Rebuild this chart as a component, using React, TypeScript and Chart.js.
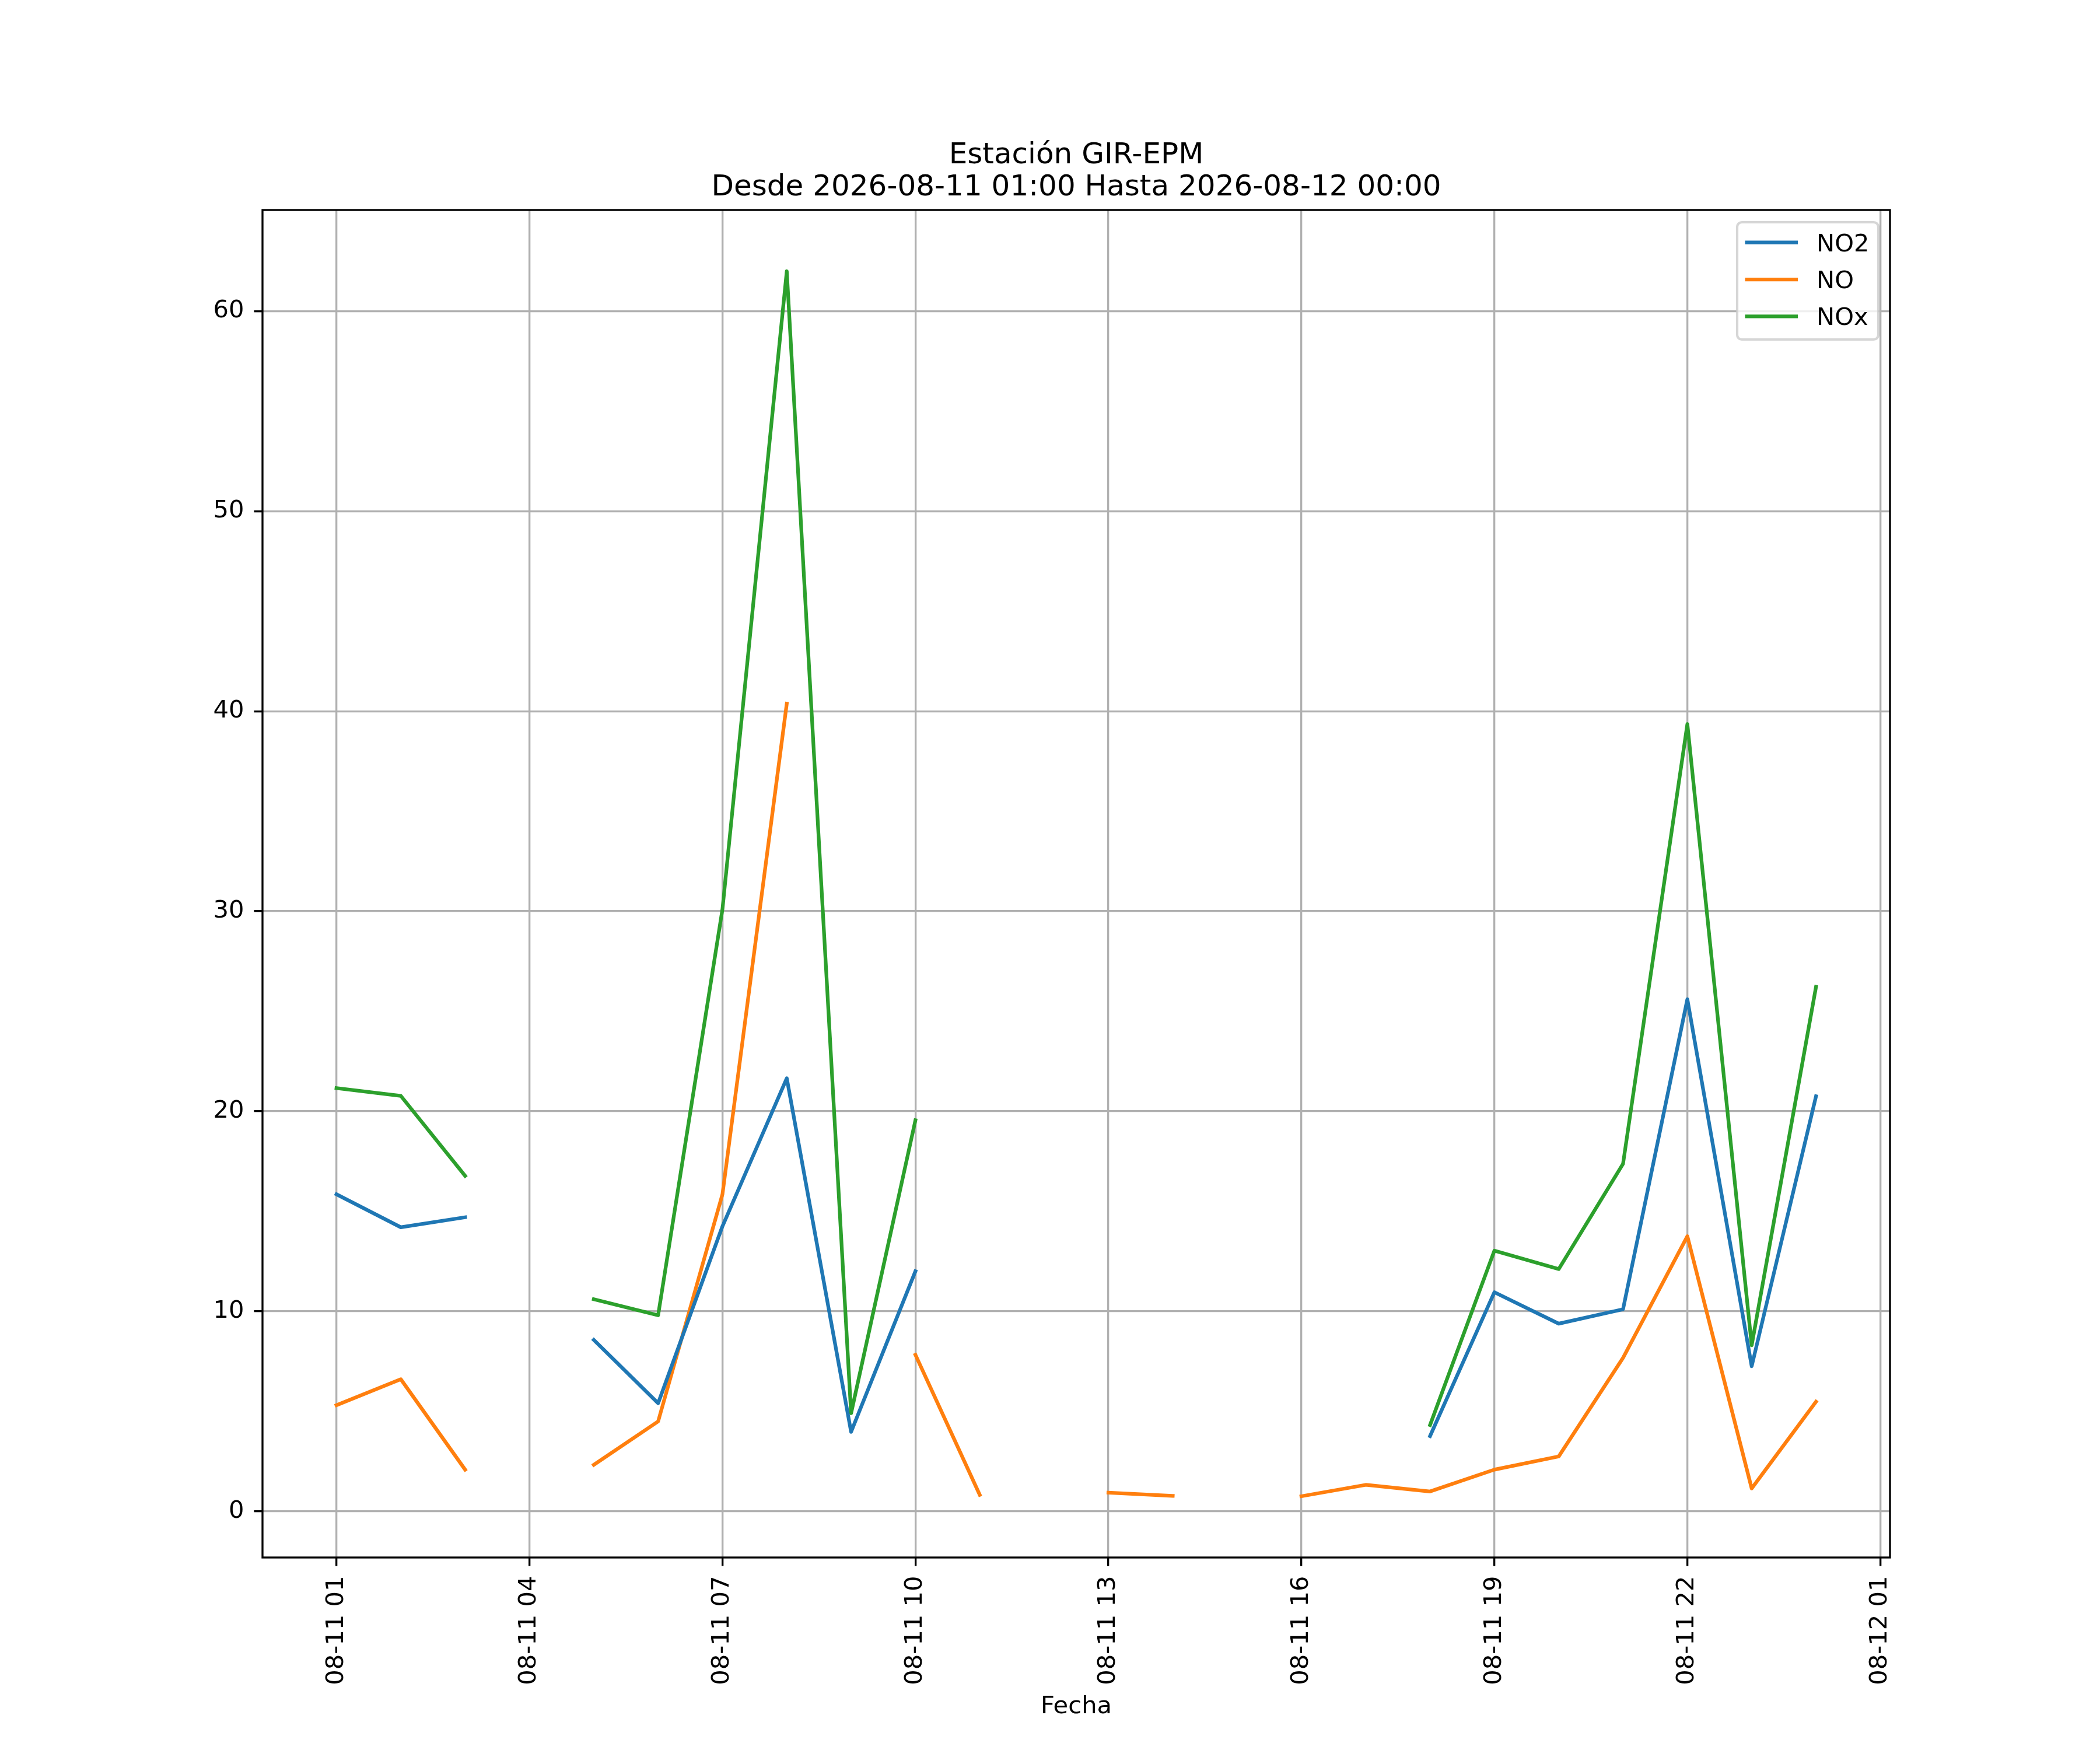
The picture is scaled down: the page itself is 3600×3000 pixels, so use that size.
import React, { useEffect, useRef } from 'react';
import { Chart, registerables } from 'chart.js';

Chart.register(...registerables);

// Hours after 2026-08-11 00:00
const hours = [1, 2, 3, 4, 5, 6, 7, 8, 9, 10, 11, 12, 13, 14, 15, 16, 17, 18, 19, 20, 21, 22, 23, 24];
const no2Values = [15.85, 14.2, 14.7, null, 8.57, 5.4, 14.25, 21.65, 3.97, 12.0, null, null, null, null, null, null, null, 3.76, 10.95, 9.38, 10.1, 25.6, 7.25, 20.75];
const noValues = [5.3, 6.6, 2.08, null, 2.32, 4.49, 15.85, 40.38, null, 7.82, 0.82, null, 0.93, 0.77, null, 0.75, 1.32, 0.99, 2.08, 2.74, 7.67, 13.75, 1.14, 5.48];
const noxValues = [21.16, 20.77, 16.77, null, 10.6, 9.8, 30.1, 62.0, 4.9, 19.55, null, null, null, null, null, null, null, 4.31, 13.03, 12.11, 17.37, 39.36, 8.3, 26.22];

const seriesNames = ['NO2', 'NO', 'NOx'];
const seriesColors = ['#1f77b4', '#ff7f0e', '#2ca02c'];

const xTickHours = [1, 4, 7, 10, 13, 16, 19, 22, 25];
const xTickLabels = ['08-11 01', '08-11 04', '08-11 07', '08-11 10', '08-11 13', '08-11 16', '08-11 19', '08-11 22', '08-12 01'];
const yTickValues = [0, 10, 20, 30, 40, 50, 60];

const titleLines = ['Estación GIR-EPM', 'Desde 2026-08-11 01:00 Hasta 2026-08-12 00:00'];
const xAxisTitle = 'Fecha';

const FONT = '"DejaVu Sans", sans-serif';
const PT = 300 / 72; // px per point

export default function App() {
  const ref = useRef<HTMLCanvasElement | null>(null);

  useEffect(() => {
    document.body.style.margin = '0';
    const canvas = ref.current;
    if (!canvas) return;

    const allSeries = [no2Values, noValues, noxValues];
    const allVals = allSeries.flat().filter((v) => v !== null) as number[];
    const yMinData = Math.min(...allVals);
    const yMaxData = Math.max(...allVals);
    const yr = yMaxData - yMinData;
    const xr = hours[hours.length - 1] - hours[0];

    const datasets = allSeries.map((vals, i) => ({
      label: seriesNames[i],
      data: hours.map((h, k) => ({ x: h, y: vals[k] })),
      borderColor: seriesColors[i],
      backgroundColor: seriesColors[i],
      borderWidth: 1.5 * PT,
      borderJoinStyle: 'round' as const,
      borderCapStyle: 'square' as const,
      pointRadius: 0,
      pointHoverRadius: 0,
      spanGaps: false,
      tension: 0,
    }));

    const decor = {
      id: 'decor',
      afterDatasetsDraw(chart: any) {
        const { ctx, chartArea: a } = chart;
        ctx.save();
        // frame (spines)
        ctx.strokeStyle = '#000';
        ctx.lineWidth = 0.8 * PT;
        ctx.strokeRect(a.left, a.top, a.right - a.left, a.bottom - a.top);

        // legend
        const bx = a.right - 262;
        const by = a.top + 21;
        const bw = 242;
        const bh = 201;
        const r = 8;
        ctx.beginPath();
        ctx.moveTo(bx + r, by);
        ctx.lineTo(bx + bw - r, by);
        ctx.arcTo(bx + bw, by, bx + bw, by + r, r);
        ctx.lineTo(bx + bw, by + bh - r);
        ctx.arcTo(bx + bw, by + bh, bx + bw - r, by + bh, r);
        ctx.lineTo(bx + r, by + bh);
        ctx.arcTo(bx, by + bh, bx, by + bh - r, r);
        ctx.lineTo(bx, by + r);
        ctx.arcTo(bx, by, bx + r, by, r);
        ctx.closePath();
        ctx.fillStyle = 'rgba(255,255,255,0.8)';
        ctx.fill();
        ctx.strokeStyle = 'rgba(204,204,204,0.8)';
        ctx.lineWidth = 1.0 * PT;
        ctx.stroke();

        ctx.font = `${10 * PT}px ${FONT}`;
        ctx.textAlign = 'left';
        ctx.textBaseline = 'alphabetic';
        chart.data.datasets.forEach((ds: any, i: number) => {
          const ly = by + 34.7 + i * 63.3;
          ctx.strokeStyle = ds.borderColor;
          ctx.lineWidth = 1.5 * PT;
          ctx.lineCap = 'butt';
          ctx.beginPath();
          ctx.moveTo(bx + 13.5, ly);
          ctx.lineTo(bx + 104, ly);
          ctx.stroke();
          ctx.fillStyle = '#000';
          ctx.fillText(ds.label, bx + 136, ly + 14.8);
        });
        ctx.restore();
      },
      afterDraw(chart: any) {
        const { ctx, chartArea: a } = chart;
        const cx = (a.left + a.right) / 2;
        ctx.save();
        ctx.fillStyle = '#000';
        ctx.textAlign = 'center';
        ctx.textBaseline = 'alphabetic';
        ctx.font = `${12 * PT}px ${FONT}`;
        ctx.fillText(titleLines[0], cx, a.top - 80);
        ctx.fillText(titleLines[1], cx, a.top - 25);
        ctx.font = `${10 * PT}px ${FONT}`;
        ctx.fillText(xAxisTitle, cx, a.bottom + 267);
        ctx.restore();
      },
    };

    const chart = new Chart(canvas, {
      type: 'line',
      data: { datasets: datasets as any },
      plugins: [decor],
      options: {
        animation: false,
        responsive: false,
        devicePixelRatio: 1,
        layout: { padding: { left: 0, right: 360, top: 360, bottom: 0 } },
        plugins: {
          legend: { display: false },
          title: { display: false },
          tooltip: { enabled: false },
        },
        scales: {
          x: {
            type: 'linear',
            min: hours[0] - 0.05 * xr,
            max: hours[hours.length - 1] + 0.05 * xr,
            afterBuildTicks: (s: any) => {
              s.ticks = xTickHours.map((v) => ({ value: v }));
            },
            afterFit: (s: any) => {
              s.height = 330;
            },
            ticks: {
              autoSkip: false,
              minRotation: 90,
              maxRotation: 90,
              padding: 17,
              color: '#000',
              font: { family: FONT, size: 10 * PT },
              callback: (_v: any, i: number) => xTickLabels[i],
            },
            grid: {
              color: '#b0b0b0',
              lineWidth: 0.8 * PT,
              tickColor: '#000',
              tickWidth: 0.8 * PT,
              tickLength: 3.5 * PT,
              drawTicks: true,
            },
            border: { display: false },
          },
          y: {
            type: 'linear',
            min: yMinData - 0.05 * yr,
            max: yMaxData + 0.05 * yr,
            afterBuildTicks: (s: any) => {
              s.ticks = yTickValues.map((v) => ({ value: v }));
            },
            afterFit: (s: any) => {
              s.width = 450;
            },
            ticks: {
              padding: 17,
              color: '#000',
              font: { family: FONT, size: 10 * PT },
              callback: (v: any) => String(v),
            },
            grid: {
              color: '#b0b0b0',
              lineWidth: 0.8 * PT,
              tickColor: '#000',
              tickWidth: 0.8 * PT,
              tickLength: 3.5 * PT,
              drawTicks: true,
            },
            border: { display: false },
          },
        },
      },
    });

    return () => {
      chart.destroy();
    };
  }, []);

  return (
    <div style={{ width: 3600, height: 3000, background: '#fff' }}>
      <canvas ref={ref} width={3600} height={3000} style={{ display: 'block', width: 3600, height: 3000 }} />
    </div>
  );
}
